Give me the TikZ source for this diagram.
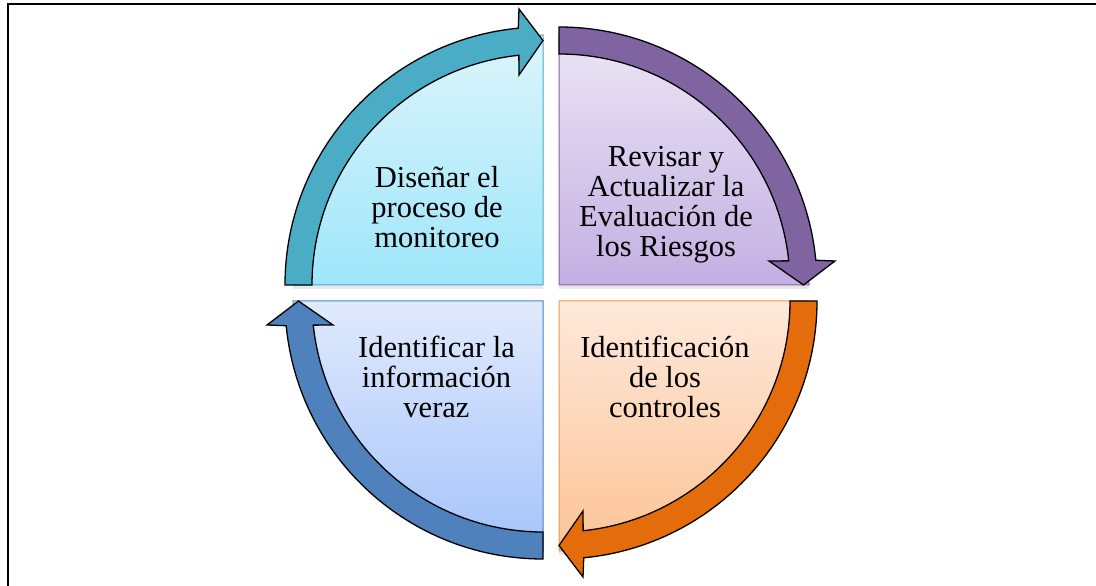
\documentclass[tikz,border=0pt]{standalone}
\usepackage{fontspec}
\setmainfont{Liberation Serif}
\usetikzlibrary{shadows}
\definecolor{tealA}{HTML}{4BACC6}
\definecolor{purpA}{HTML}{8064A2}
\definecolor{orA}{HTML}{E46C0A}
\definecolor{blA}{HTML}{4F81BD}
\definecolor{tealTop}{HTML}{DDF5FB}
\definecolor{tealBot}{HTML}{9EE6FA}
\definecolor{purpTop}{HTML}{EBE5F5}
\definecolor{purpBot}{HTML}{C3AFE2}
\definecolor{orTop}{HTML}{FEE9DB}
\definecolor{orBot}{HTML}{FCC396}
\definecolor{blTop}{HTML}{E0EAFC}
\definecolor{blBot}{HTML}{A5C3FB}
\definecolor{orBorder}{HTML}{F79646}
\tikzset{
  x=1pt, y=1pt,
  qarrow/.pic={
    \path[pic actions] (180:258) arc[start angle=180,end angle=95.5,radius=258]
      -- (-24,276) -- (0,244.5) -- (-24,210) -- (96:231)
      arc[start angle=96,end angle=180,radius=231] -- cycle;
  },
  arrowstyle/.style={draw=black, line width=1.3pt, line join=miter},
  boxstyle/.style={line width=1pt, drop shadow={opacity=0.18, shadow xshift=0pt, shadow yshift=-4pt}},
  lbl/.style={align=center, inner sep=0pt, anchor=base, font=\fontsize{30.5}{30}\selectfont, text=black},
  frameline/.style={line width=2pt, draw=black}
}
\begin{document}
\begin{tikzpicture}
\useasboundingbox (0,0) rectangle (1096,586);
\coordinate (C1) at (543,301);
\coordinate (C2) at (559,301);
\coordinate (C3) at (543,285);
\coordinate (C4) at (559,285);
\coordinate (F1) at (1096,582);
\coordinate (F2) at (8,582);
\coordinate (F3) at (8,0);
\draw[frameline] (F1) -- (F2) -- (F3);
% boxes
\path[boxstyle, draw=tealA, top color=tealTop, bottom color=tealBot]
  (C1) -- ++(180:250) arc[start angle=180,end angle=90,radius=250] -- cycle;
\path[boxstyle, draw=purpA, top color=purpTop, bottom color=purpBot]
  (C2) -- ++(90:250) arc[start angle=90,end angle=0,radius=250] -- cycle;
\path[boxstyle, draw=orBorder, top color=orTop, bottom color=orBot]
  (C4) -- ++(0:250) arc[start angle=0,end angle=-90,radius=250] -- cycle;
\path[boxstyle, draw=blA, top color=blTop, bottom color=blBot]
  (C3) -- ++(270:250) arc[start angle=270,end angle=180,radius=250] -- cycle;
% arrows
\pic[arrowstyle, fill=tealA] at (C1) {qarrow};
\pic[arrowstyle, fill=purpA, rotate=-90] at (C2) {qarrow};
\pic[arrowstyle, fill=orA, rotate=-180] at (C4) {qarrow};
\pic[arrowstyle, fill=blA, rotate=-270] at (C3) {qarrow};
% labels (base anchor = baseline of last line)
\node[lbl] (t1) at (437,338) {Diseñar el\\proceso de\\monitoreo};
\node[lbl] (t2) at (666,329) {Revisar y\\Actualizar la\\Evaluación de\\los Riesgos};
\node[lbl] (t3) at (436.5,168) {Identificar la\\información\\veraz};
\node[lbl] (t4) at (665,168) {Identificación\\de los\\controles};
\end{tikzpicture}
\end{document}
